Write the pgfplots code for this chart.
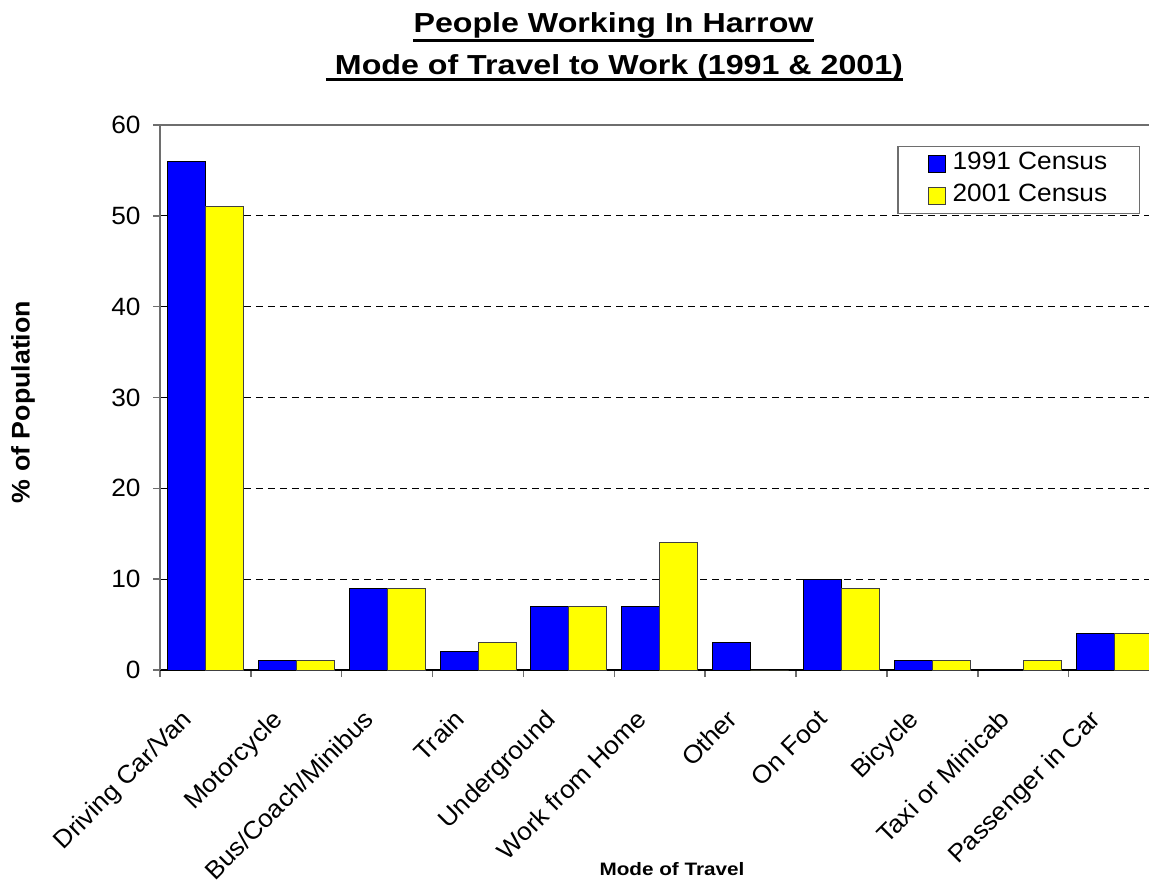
\documentclass[border=0pt]{standalone}
\usepackage{fontspec}
\setmainfont{Liberation Sans}[FakeStretch=1.05]
\newfontfamily\titlefont{Liberation Sans}[FakeStretch=1.17]
\newfontfamily\labfont{Liberation Sans}[FakeStretch=1.15]
\usepackage{pgfplots}
\pgfplotsset{compat=1.18}
\definecolor{barblue}{RGB}{0,0,255}
\definecolor{baryellow}{RGB}{255,255,0}
\definecolor{framegray}{RGB}{110,110,110}

\begin{document}
\begin{tikzpicture}
\path[use as bounding box] (-160pt,-209pt) rectangle (989pt,670pt);
\begin{axis}[
  at={(0pt,0pt)}, anchor=south west,
  scale only axis, width=989pt, height=545pt,
  xmin=-0.5, xmax=10.384, ymin=0, ymax=60,
  ybar, bar width=0.418,
  clip=false,
  axis x line*=bottom, axis y line*=left,
  x axis line style={-, black, line width=1.5pt},
  y axis line style={-, framegray, line width=2pt},
  tick align=outside,
  major tick length=7pt,
  tick style={framegray, line width=1.5pt},
  ytick={0,10,...,60},
  ymajorgrids,
  grid style={black, line width=0.9pt, dash pattern=on 7pt off 5pt},
  xtick={-0.5,0.5,...,9.5},
  xticklabels={},
  extra x ticks={0,1,...,10},
  extra x tick labels={Driving Car/Van, Motorcycle, Bus/Coach/Minibus, Train, Underground, Work from Home, Other, On Foot, Bicycle, Taxi or Minicab, Passenger in Car},
  extra x tick style={major tick length=0pt},
  xticklabel style={xshift=-25pt, yshift=-38pt, font=\fontsize{25}{30}\selectfont, rotate=45, anchor=north east, inner sep=0pt},
  yticklabel style={xshift=-9pt, font=\fontsize{25}{28}\selectfont},
  /pgf/number format/assume math mode=true,
  legend style={at={(0.9909,0.962)}, anchor=north east, draw=framegray, line width=1.5pt,
    font=\fontsize{25}{30}\selectfont, inner xsep=30pt, inner ysep=1.5pt,
    nodes={inner sep=2pt, text height=20pt, text depth=8pt}, row sep=0pt, cells={anchor=west},
    /tikz/every odd column/.append style={column sep=5pt}},
  legend image code/.code={\draw[#1, line width=0.8pt] (0pt,-8.5pt) rectangle (17pt,8.5pt);},
]
\addplot[fill=barblue, draw=black, line width=1pt, bar shift=-0.209]
  coordinates {(0,56) (1,1) (2,9) (3,2) (4,7) (5,7) (6,3) (7,10) (8,1) (9,0) (10,4)};
\addlegendentry{1991 Census}
\addplot[fill=baryellow, draw=black!75, line width=1pt, bar shift=0.209]
  coordinates {(0,51) (1,1) (2,9) (3,3) (4,7) (5,14) (6,0) (7,9) (8,1) (9,1) (10,4)};
\addlegendentry{2001 Census}
\draw[framegray, line width=2pt] (rel axis cs:0,1) -- (rel axis cs:1,1);
\end{axis}
\node[anchor=base, inner sep=0pt, font={\titlefont\bfseries\fontsize{27.5}{33}\selectfont}] (t1) at (453.5pt,637pt) {People Working In Harrow};
\node[anchor=base, inner sep=0pt, font={\titlefont\bfseries\fontsize{27.5}{33}\selectfont}] (t2) at (454.5pt,595pt) {\ Mode of Travel to Work (1991 \& 2001)};
\draw[line width=3.5pt] ([yshift=-7.7pt]t1.base west) -- ([yshift=-7.7pt]t1.base east);
\draw[line width=3.5pt] ([yshift=-4.7pt]t2.base west) -- ([yshift=-4.7pt]t2.base east);
\node[rotate=90, inner sep=0pt, font={\bfseries\fontsize{25.5}{30}\selectfont}] at (-137pt,268pt) {\% of Population};
\node[anchor=base, inner sep=0pt, font={\labfont\bfseries\fontsize{18}{22}\selectfont}] at (512pt,-205pt) {Mode of Travel};
\end{tikzpicture}
\end{document}
